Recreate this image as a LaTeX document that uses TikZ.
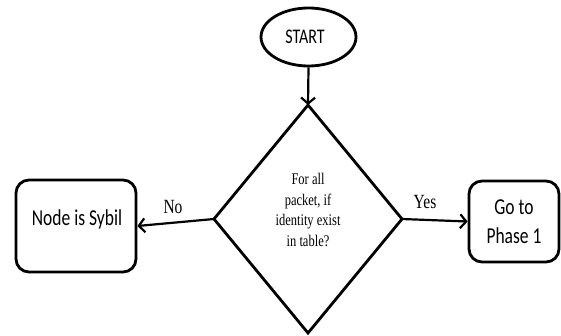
\documentclass[tikz,border=0pt]{standalone}
\usepackage{fontspec}
\setmainfont{Liberation Serif}
\newfontfamily\carl{Carlito}
\usetikzlibrary{arrows.meta,shapes.geometric}
\newcommand{\vs}[1]{\scalebox{1}[1.3]{#1}}
\tikzset{
  line/.style={line width=2.2pt},
  arr/.style={line, -{Straight Barb[length=6pt,width=14pt,line width=2.2pt]}},
  rbox/.style={draw, line width=2.8pt, rounded corners=13pt, inner sep=0pt},
  sanslbl/.style={font=\carl\fontsize{17.5}{20}\selectfont, inner sep=0pt, align=center},
  serlbl/.style={font=\fontsize{12.5}{20.7}\selectfont, inner sep=0pt, align=center},
}
\begin{document}
\begin{tikzpicture}[x=1pt,y=-1pt]
\useasboundingbox (0,0) rectangle (561,336);
% start
\node[draw, ellipse, line width=2.8pt, minimum width=95pt, minimum height=58pt, inner sep=0pt] (start) at (308.5,37) {};
\node[sanslbl, font=\carl\fontsize{16}{18}\selectfont] (starttxt) at (305,37) {\vs{START}};
% diamond
\coordinate (dt) at (308,105);
\coordinate (dr) at (402,219);
\coordinate (db) at (308,333);
\coordinate (dl) at (214,219);
\draw[line width=2.8pt, line join=miter] (dt) -- (dr) -- (db) -- (dl) -- cycle;
\node[serlbl] (q) at (308,210) {\vs{For all}\\\vs{packet, if}\\\vs{identity exist}\\\vs{in table?}};
% boxes
\node[rbox, minimum width=120pt, minimum height=92pt] (sybil) at (76,226) {};
\node[sanslbl] (sybiltxt) at (77,219) {\vs{Node is Sybil}};
\node[rbox, minimum width=90pt, minimum height=81pt] (phase) at (514,221.5) {};
\node[sanslbl, font=\carl\fontsize{17.5}{29}\selectfont] (phasetxt) at (514,221.5) {\vs{Go to}\\\vs{Phase 1}};
% connectors
\draw[arr] (start.south) -- (dt);
\draw[arr] (dl) -- (sybil.east);
\draw[arr] (dr) -- (phase.west);
\node[serlbl, font=\fontsize{15.5}{16}\selectfont] (no) at (173,207) {\vs{No}};
\node[serlbl, font=\fontsize{15.5}{16}\selectfont] (yes) at (425,202) {\vs{Yes}};
\end{tikzpicture}
\end{document}
